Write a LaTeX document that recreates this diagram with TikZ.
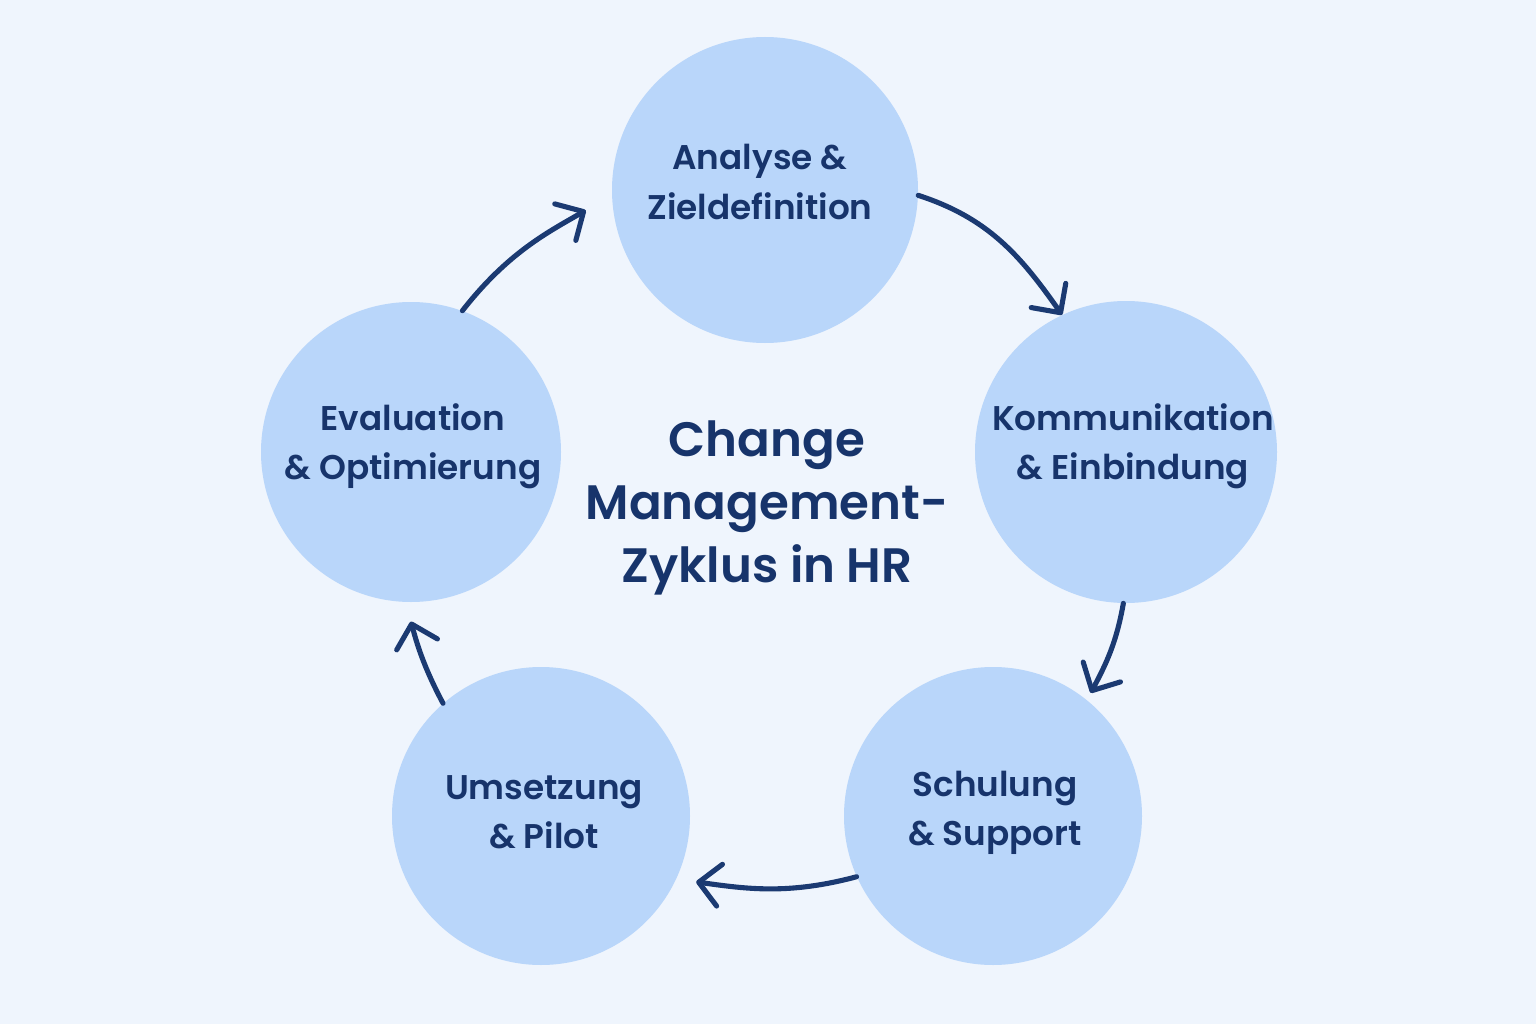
\documentclass[tikz,border=0pt]{standalone}
\usepackage{fontspec}
\setmainfont{Poppins}[BoldFont={Poppins SemiBold}]
\usetikzlibrary{arrows.meta}
\definecolor{bgc}{HTML}{EFF5FD}
\definecolor{circ}{HTML}{B9D6FA}
\definecolor{ink}{HTML}{17346B}
\definecolor{arr}{HTML}{1B3A72}
\tikzset{
  phase/.style={circle, fill=circ, minimum size=300*0.02cm, inner sep=0pt},
  lbl/.style={text=ink, font=\fontsize{19.5}{28}\selectfont\bfseries, align=center},
  flow/.style={draw=arr, line width=2.9pt, line cap=round,
    -{Straight Barb[length=12pt, width=24pt, line width=2.9pt, line cap=round, line join=round]}},
}
\begin{document}
\begin{tikzpicture}[x=0.02cm, y=-0.02cm]
\fill[bgc] (0,0) rectangle (1536,1024);
\useasboundingbox (0,0) rectangle (1536,1024);
\node[phase, minimum size=306*0.02cm] (top) at (765,190) {};
\node[phase, minimum size=302*0.02cm] (rgt) at (1126,452) {};
\node[phase, minimum size=298*0.02cm] (br) at (993,816) {};
\node[phase, minimum size=298*0.02cm] (bl) at (541,816) {};
\node[phase, minimum size=300*0.02cm] (lft) at (411,452) {};
\node[lbl] (ttop) at (760,182) {Analyse \&\\Zieldefinition};
\node[lbl] (trgt) at (1133,446) {Kommunikation\\\& Einbindung};
\node[lbl] (tbr) at (995,813) {Schulung\\\& Support};
\node[lbl] (tbl) at (544,812) {Umsetzung\\\& Pilot};
\node[lbl] (tlft) at (413,446) {Evaluation\\\& Optimierung};
\node[text=ink, font=\fontsize{27.5}{36}\selectfont\bfseries, align=center] (title) at (767,508) {Change\\Management-\\Zyklus in HR};
\draw[flow] (top.-2) to[out=-18, in=125] (rgt.115);
\draw[flow, shorten >=8*0.02cm] (rgt.-91) to[out=-100, in=62] (br.51);
\draw[flow, shorten >=20*0.02cm] (br.204) to[out=195, in=-8] (bl.-25);
\draw[flow, shorten >=20*0.02cm] (bl.131) to[out=118, in=-75] (lft.-92);
\draw[flow, shorten >=30*0.02cm] (lft.70) to[out=52, in=-150] (top.182);
\end{tikzpicture}
\end{document}
